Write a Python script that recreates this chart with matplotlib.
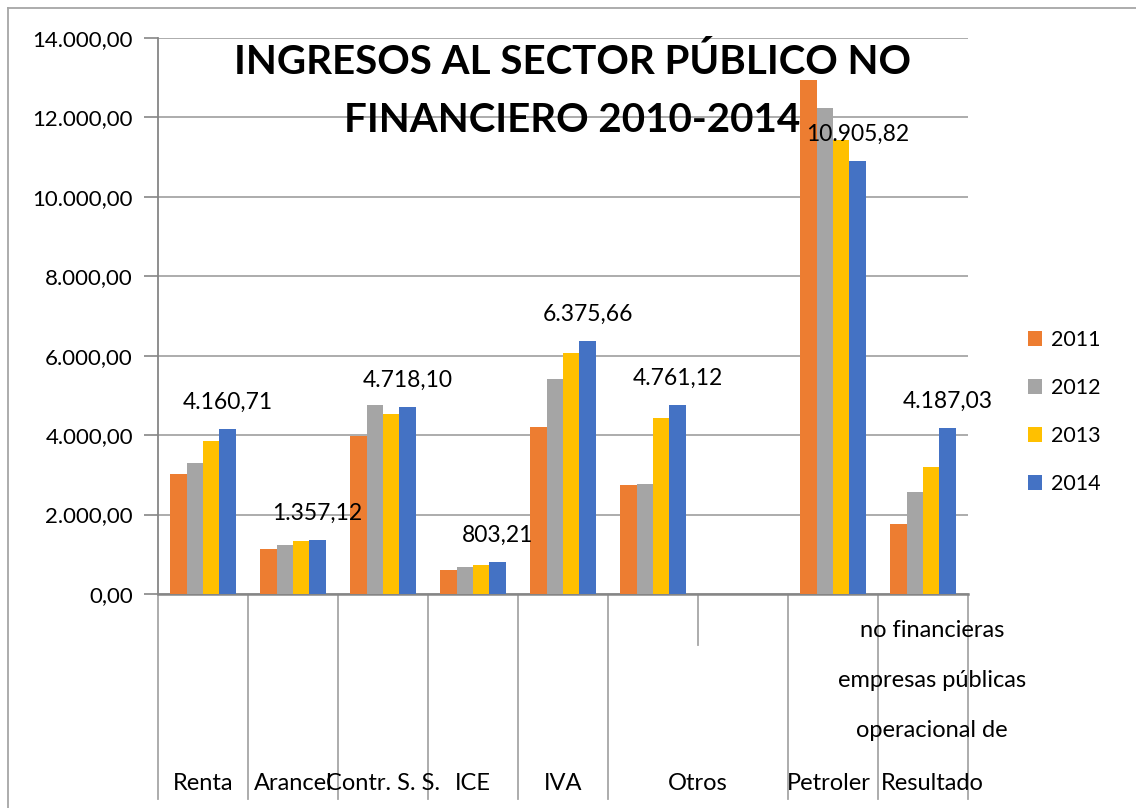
import matplotlib
matplotlib.use("Agg")
import matplotlib.pyplot as plt
import matplotlib.transforms as mtransforms
from matplotlib.lines import Line2D
from matplotlib.patches import Patch
import numpy as np

plt.rcParams['font.family'] = ['Lato', 'DejaVu Sans']

categories = ["Renta", "Arancel", "Contr. S. S.", "ICE", "IVA", "Otros", "", "Petroler", "Resultado"]
years = ["2011", "2012", "2013", "2014"]
v2011 = [3026, 1143, 3975, 613, 4194, 2757, np.nan, 12946, 1755]
v2012 = [3304, 1243, 4749, 671, 5405, 2774, np.nan, 12232, 2562]
v2013 = [3841, 1345, 4540, 731, 6061, 4421, np.nan, 11433, 3193]
v2014 = [4160.71, 1357.12, 4718.10, 803.21, 6375.66, 4761.12, np.nan, 10905.82, 4187.03]
series = [v2011, v2012, v2013, v2014]
colors = ["#ED7D31", "#A5A5A5", "#FFC000", "#4472C4"]
result_lines = ["Resultado", "operacional de", "empresas públicas", "no financieras"]

W, H = 1136, 808
fig = plt.figure(figsize=(W / 100, H / 100), dpi=100)
ax = fig.add_axes([158 / W, (H - 594) / H, (968 - 158) / W, (594 - 38) / H])

def es_fmt(v):
    s = f"{v:,.2f}"
    return s.replace(",", "X").replace(".", ",").replace("X", ".")

n = len(categories)
x = np.arange(n) + 0.5
bw = 0.182
for i, (vals, c, yr) in enumerate(zip(series, colors, years)):
    xs = x + (i - 1.5) * bw
    ax.bar(xs, vals, width=bw, color=c, zorder=3, label=yr)
    if i == 3:
        for xi, v in zip(xs, vals):
            if not np.isnan(v):
                ax.annotate(es_fmt(v), (xi, v), xytext=(0, 19), textcoords="offset points",
                            ha="center", va="center", fontsize=16.5, color="#000000", zorder=5)

ax.set_xlim(0, n)
ax.set_ylim(0, 14000)
yt = np.arange(0, 14001, 2000)
ax.set_yticks(yt)
ax.set_yticklabels([es_fmt(v) for v in yt], fontsize=16, color="#000000")
ax.tick_params(axis="y", length=10, color="#868686", pad=8, width=1.2)
ax.set_xticks([])
ax.grid(axis="y", color="#A6A6A6", linewidth=1.3, zorder=0)
for s in ["top", "right"]:
    ax.spines[s].set_visible(False)
ax.spines["left"].set_color("#868686")
ax.spines["bottom"].set_color("#868686")
ax.spines["left"].set_linewidth(1.3)
ax.spines["bottom"].set_linewidth(1.8)

# category separator lines below axis
trans = mtransforms.blended_transform_factory(ax.transData, ax.transAxes)
for b in range(n + 1):
    bottom = -0.0917 if b == 6 else -0.3687
    ax.plot([b, b], [0, bottom], color="#A6A6A6", lw=1.3, transform=trans, clip_on=False)

# category labels
label_y = -0.34
label_pos = {"Renta": 0.5, "Arancel": 1.5, "Contr. S. S.": 2.5, "ICE": 3.5, "IVA": 4.5,
             "Otros": 6.0, "Petroler": 7.45}
for lab, px in label_pos.items():
    ax.text(px, label_y, lab, transform=trans, ha="center", va="center", fontsize=17, color="#000000")
res_y = [-0.34, -0.2464, -0.1547, -0.0665]
for txt, yy in zip(result_lines, res_y):
    ax.text(8.6, yy, txt, transform=trans, ha="center", va="center", fontsize=17, color="#000000")

# title
fig.text(572 / W, 1 - 62 / H, "INGRESOS AL SECTOR PÚBLICO NO", ha="center", va="center",
         fontsize=29, fontweight="bold", color="#000000")
fig.text(572 / W, 1 - 120 / H, "FINANCIERO 2010-2014", ha="center", va="center",
         fontsize=29, fontweight="bold", color="#000000")

# legend
handles = [Patch(facecolor=c, edgecolor="none") for c in colors]
fig.legend(handles, years, loc="upper left", bbox_to_anchor=(1028 / W, 1 - 330 / H),
           frameon=False, fontsize=15.5, handlelength=0.65, handleheight=0.65,
           handletextpad=0.4, labelspacing=1.3, borderpad=0, borderaxespad=0)

# chart border
fig.add_artist(Line2D([8 / W, 8 / W], [0, 1 - 8 / H], color="#A6A6A6", lw=1.3))
fig.add_artist(Line2D([8 / W, 1], [1 - 8 / H, 1 - 8 / H], color="#A6A6A6", lw=1.3))

fig.savefig("out.png", dpi=100)
